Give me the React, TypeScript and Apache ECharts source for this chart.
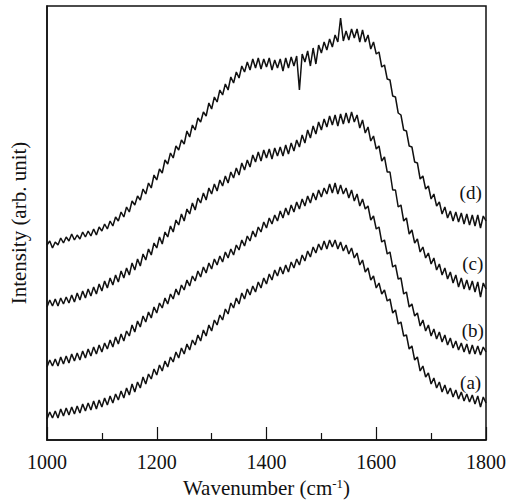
import React, { useEffect, useRef } from "react";
import * as echarts from "echarts";

// Wavenumber sample grid (cm^-1), 5 cm^-1 steps
const wavenumbers = [
  1000, 1005, 1010, 1015, 1020, 1025, 1030, 1035, 1040, 1045, 1050, 1055, 1060, 1065, 1070, 1075, 1080, 1085, 1090, 1095,
  1100, 1105, 1110, 1115, 1120, 1125, 1130, 1135, 1140, 1145, 1150, 1155, 1160, 1165, 1170, 1175, 1180, 1185, 1190, 1195,
  1200, 1205, 1210, 1215, 1220, 1225, 1230, 1235, 1240, 1245, 1250, 1255, 1260, 1265, 1270, 1275, 1280, 1285, 1290, 1295,
  1300, 1305, 1310, 1315, 1320, 1325, 1330, 1335, 1340, 1345, 1350, 1355, 1360, 1365, 1370, 1375, 1380, 1385, 1390, 1395,
  1400, 1405, 1410, 1415, 1420, 1425, 1430, 1435, 1440, 1445, 1450, 1455, 1460, 1465, 1470, 1475, 1480, 1485, 1490, 1495,
  1500, 1505, 1510, 1515, 1520, 1525, 1530, 1535, 1540, 1545, 1550, 1555, 1560, 1565, 1570, 1575, 1580, 1585, 1590, 1595,
  1600, 1605, 1610, 1615, 1620, 1625, 1630, 1635, 1640, 1645, 1650, 1655, 1660, 1665, 1670, 1675, 1680, 1685, 1690, 1695,
  1700, 1705, 1710, 1715, 1720, 1725, 1730, 1735, 1740, 1745, 1750, 1755, 1760, 1765, 1770, 1775, 1780, 1785, 1790, 1795,
  1800,
];

// Intensities (arb. unit), vertically offset spectra
const seriesD = [
  195, 199, 192, 198, 195, 202, 197, 203, 199, 206, 200, 205, 201, 208, 203, 209, 204, 211, 205, 213,
  209, 216, 211, 219, 214, 223, 219, 228, 223, 233, 228, 239, 235, 244, 240, 251, 246, 257, 252, 265,
  260, 271, 267, 280, 276, 287, 282, 294, 290, 300, 296, 309, 303, 315, 310, 322, 318, 328, 324, 337,
  331, 343, 338, 350, 345, 356, 350, 363, 357, 368, 362, 374, 368, 378, 370, 381, 372, 382, 371, 381,
  373, 382, 370, 380, 372, 381, 369, 382, 372, 383, 374, 384, 350, 386, 378, 389, 374, 392, 376, 395,
  387, 398, 390, 401, 393, 405, 398, 422, 399, 409, 400, 411, 402, 411, 398, 410, 398, 405, 391, 398,
  386, 388, 373, 375, 361, 360, 344, 343, 327, 325, 310, 309, 294, 293, 278, 277, 261, 264, 251, 254,
  241, 246, 234, 238, 226, 233, 222, 229, 219, 228, 218, 227, 216, 226, 215, 225, 214, 225, 212, 224,
  219,
];
const seriesC = [
  133, 140, 134, 141, 134, 142, 136, 143, 137, 145, 138, 147, 140, 149, 142, 151, 144, 153, 146, 156,
  149, 159, 152, 162, 155, 165, 158, 169, 162, 172, 165, 177, 170, 181, 174, 186, 180, 191, 185, 197,
  192, 203, 196, 208, 203, 214, 208, 220, 215, 226, 219, 231, 226, 237, 230, 242, 237, 247, 240, 252,
  246, 256, 249, 260, 254, 264, 257, 268, 262, 272, 265, 277, 270, 280, 273, 285, 278, 288, 279, 290,
  282, 291, 281, 292, 284, 293, 284, 295, 286, 297, 289, 300, 293, 305, 297, 310, 302, 314, 306, 318,
  310, 321, 313, 324, 315, 325, 314, 326, 316, 327, 317, 328, 318, 325, 312, 320, 307, 313, 299, 304,
  291, 294, 279, 283, 268, 268, 250, 250, 233, 235, 219, 222, 206, 210, 197, 201, 188, 193, 182, 187,
  176, 182, 170, 176, 165, 172, 161, 168, 157, 165, 153, 162, 151, 160, 150, 159, 148, 158, 143, 157,
  151,
];
const seriesB = [
  73, 80, 74, 81, 74, 83, 76, 84, 77, 86, 79, 87, 80, 89, 82, 91, 84, 93, 86, 95,
  88, 97, 91, 100, 93, 103, 96, 106, 99, 109, 104, 115, 108, 119, 113, 124, 118, 128, 122, 133,
  127, 137, 132, 142, 136, 146, 141, 151, 145, 155, 150, 160, 154, 164, 159, 169, 163, 173, 167, 177,
  171, 181, 175, 184, 178, 188, 182, 191, 185, 195, 190, 200, 194, 204, 199, 209, 203, 213, 208, 218,
  212, 222, 216, 225, 219, 229, 222, 232, 225, 235, 228, 238, 231, 241, 234, 244, 237, 247, 240, 250,
  243, 252, 246, 256, 247, 257, 246, 255, 246, 252, 242, 250, 239, 246, 234, 241, 231, 234, 220, 224,
  211, 213, 198, 200, 186, 188, 173, 175, 161, 162, 146, 148, 133, 136, 124, 127, 114, 120, 109, 115,
  104, 111, 101, 108, 98, 105, 95, 102, 92, 99, 90, 97, 88, 96, 86, 95, 86, 94, 85, 93,
  88,
];
const seriesA = [
  21, 28, 22, 29, 22, 31, 24, 32, 25, 33, 26, 34, 27, 36, 29, 37, 30, 39, 31, 40,
  33, 42, 35, 44, 37, 46, 40, 49, 42, 52, 45, 56, 48, 58, 52, 63, 56, 66, 61, 71,
  65, 75, 69, 79, 73, 83, 78, 88, 82, 92, 86, 96, 90, 100, 95, 105, 99, 110, 104, 115,
  109, 120, 115, 125, 120, 131, 126, 137, 132, 142, 136, 147, 141, 151, 145, 154, 148, 158, 152, 162,
  156, 166, 160, 170, 164, 173, 166, 175, 168, 178, 172, 181, 175, 185, 179, 189, 183, 193, 187, 196,
  190, 199, 191, 200, 193, 200, 191, 198, 189, 195, 186, 192, 182, 187, 175, 180, 168, 172, 160, 164,
  152, 157, 146, 150, 139, 141, 127, 130, 116, 118, 104, 105, 91, 94, 80, 83, 69, 74, 63, 67,
  56, 62, 52, 58, 48, 55, 46, 52, 43, 50, 41, 48, 39, 46, 38, 45, 36, 44, 33, 43,
  37,
];

const curveLabels = ["(a)", "(b)", "(c)", "(d)"];
const labelCoords: [number, number][] = [
  [1772, 58],
  [1776, 110],
  [1776, 177],
  [1772, 248],
];

const xTicks = [1000, 1200, 1400, 1600, 1800];

const serif = "'Liberation Serif', 'DejaVu Serif', 'Times New Roman', serif";

export default function App() {
  const ref = useRef<HTMLDivElement>(null);

  useEffect(() => {
    if (!ref.current) return;
    const chart = echarts.init(ref.current, undefined, { renderer: "svg" });
    const all = [seriesA, seriesB, seriesC, seriesD];
    const series = all.map((vals, i) => ({
      type: "line",
      name: curveLabels[i],
      data: wavenumbers.map((w, j) => [w, vals[j]]),
      showSymbol: false,
      symbol: "none",
      lineStyle: { color: "#111", width: 1.5 },
      silent: true,
      markPoint: {
        symbol: "circle",
        symbolSize: 0,
        label: {
          show: true,
          formatter: curveLabels[i],
          color: "#111",
          fontFamily: serif,
          fontSize: 19,
          position: "inside",
        },
        data: [{ coord: labelCoords[i] }],
      },
    }));

    chart.setOption({
      animation: false,
      backgroundColor: "#fff",
      grid: {
        left: 47,
        right: 34,
        top: 6,
        bottom: 64,
        show: true,
        borderColor: "#111",
        borderWidth: 1.5,
        backgroundColor: "transparent",
      },
      xAxis: {
        type: "value",
        min: 1000,
        max: 1800,
        interval: 200,
        name: "Wavenumber (cm{sup|-1})",
        nameLocation: "middle",
        nameGap: 33,
        nameTextStyle: {
          fontFamily: serif,
          fontSize: 21,
          color: "#111",
          rich: {
            sup: { fontFamily: serif, fontSize: 13, color: "#111", verticalAlign: "top", padding: [0, 0, 9, 0] },
          },
        },
        axisLine: { show: true, lineStyle: { color: "#111", width: 1.5 } },
        axisTick: { show: true, inside: true, length: 13, lineStyle: { color: "#111", width: 1.2 } },
        minorTick: { show: true, splitNumber: 2, length: 7, lineStyle: { color: "#111", width: 1.2 } },
        splitLine: { show: false },
        minorSplitLine: { show: false },
        axisLabel: {
          margin: 12,
          fontFamily: serif,
          fontSize: 20,
          color: "#111",
          formatter: (v: number) => (xTicks.includes(v) ? String(v) : ""),
        },
      },
      yAxis: {
        type: "value",
        min: 0,
        max: 434,
        name: "Intensity (arb. unit)",
        nameLocation: "middle",
        nameGap: 18,
        nameRotate: 90,
        nameTextStyle: { fontFamily: serif, fontSize: 21, color: "#111" },
        axisLine: { show: true, lineStyle: { color: "#111", width: 1.5 } },
        axisTick: { show: false },
        axisLabel: { show: false },
        splitLine: { show: false },
      },
      series,
    });

    return () => chart.dispose();
  }, []);

  return (
    <div
      ref={ref}
      style={{ position: "fixed", left: 0, top: 0, width: 520, height: 504, background: "#fff" }}
    />
  );
}
